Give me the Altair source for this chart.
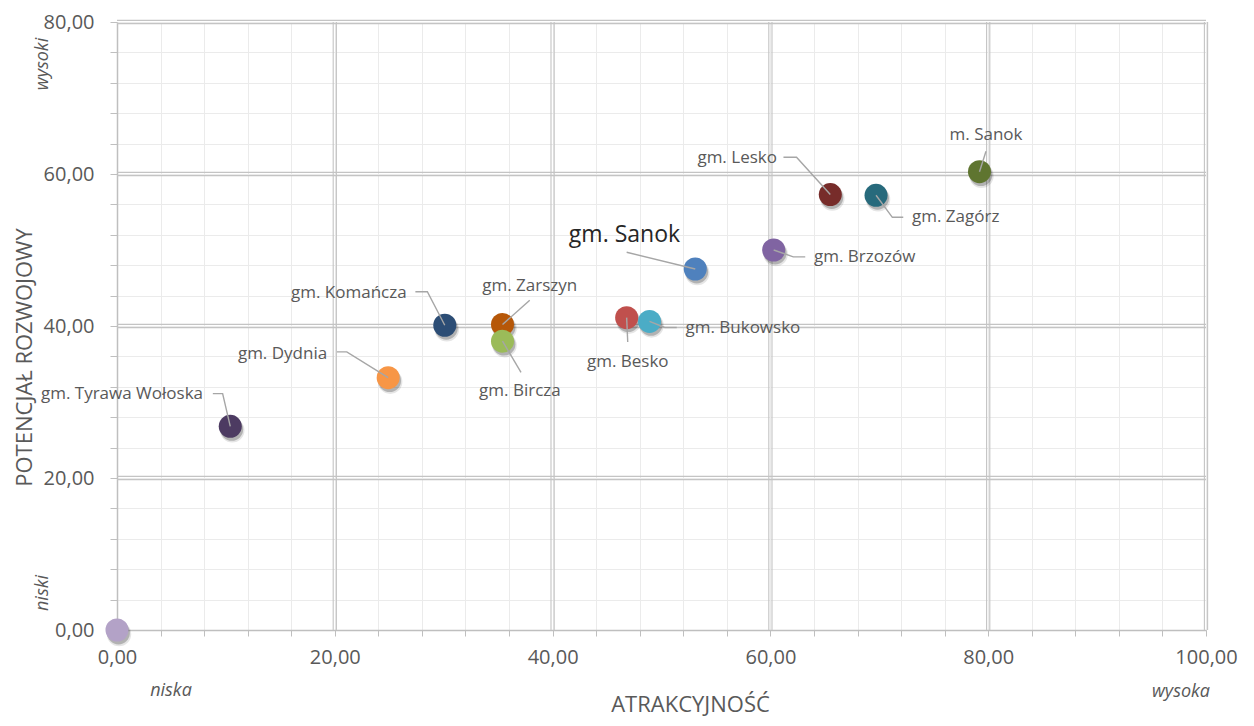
import altair as alt
import pandas as pd

# --- data ---
names = ["m. Sanok", "gm. Lesko", "gm. Zagórz", "gm. Brzozów", "gm. Sanok",
         "gm. Bukowsko", "gm. Besko", "gm. Zarszyn", "gm. Bircza",
         "gm. Komańcza", "gm. Dydnia", "gm. Tyrawa Wołoska", ""]
atrakcyjnosc = [79.2, 65.5, 69.7, 60.3, 53.1, 48.9, 46.8, 35.4, 35.4, 30.1, 24.9, 10.4, 0.0]
potencjal = [60.3, 57.3, 57.2, 50.0, 47.5, 40.6, 41.1, 40.2, 38.0, 40.1, 33.2, 26.8, 0.0]
colors = ["#5f7530", "#772c2a", "#276a7c", "#8064a2", "#4f81bd", "#4bacc6",
          "#c0504d", "#b65708", "#9bbb59", "#2c4d75", "#f79646", "#4d3b62", "#b3a2c7"]

# label anchors (data units) and alignment
label_x = [79.8, 60.6, 73.0, 64.0, 46.6, 52.2, 46.9, 37.9, 37.0, 26.6, 19.3, 7.9]
label_y = [65.1, 62.1, 54.3, 49.1, 52.0, 39.7, 35.3, 45.3, 31.5, 44.4, 36.3, 31.0]
label_align = ["center", "right", "left", "left", "center", "left", "center",
               "center", "center", "right", "right", "right"]
label_size = [17, 17, 17, 17, 23, 17, 17, 17, 17, 17, 17, 17]
label_color = ["#595959"] * 4 + ["#262626"] + ["#595959"] * 7

# leader lines: start point (near label) and elbow
lead_sx = [79.8, 61.2, 72.2, 63.2, 46.8, 51.4, 46.9, 37.9, 37.1, 27.4, 20.2, 8.8]
lead_sy = [63.0, 62.2, 54.3, 49.1, 49.7, 39.8, 37.9, 43.4, 33.9, 44.5, 36.6, 31.1]
lead_ex = [79.8, 62.4, 71.2, 62.1, 46.8, 50.3, 46.9, 37.9, 37.1, 28.5, 21.1, 9.7]
lead_ey = [63.0, 62.2, 54.3, 49.1, 49.7, 39.8, 37.9, 43.4, 33.9, 44.5, 36.6, 31.1]

major_x = [20, 40, 60, 80, 100]
major_y = [20, 40, 60, 80]

pts = pd.DataFrame({"name": names, "x": atrakcyjnosc, "y": potencjal, "c": colors})
labels = pd.DataFrame({"name": names[:12], "x": label_x, "y": label_y,
                       "align": label_align, "fs": label_size, "col": label_color})

rows = []
for i in range(12):
    rows.append({"name": names[i], "o": 0, "x": lead_sx[i], "y": lead_sy[i]})
    rows.append({"name": names[i], "o": 1, "x": lead_ex[i], "y": lead_ey[i]})
    rows.append({"name": names[i], "o": 2, "x": atrakcyjnosc[i], "y": potencjal[i]})
leaders = pd.DataFrame(rows)

FONT = "Open Sans"
W, H = 1089, 608
LEFT, TOP = 117, 22

lblexpr = "datum.value % 20 == 0 ? replace(format(datum.value, '.2f'), '.', ',') : ''"

xs = alt.Scale(domain=[0, 100], nice=False, zero=True)
ys = alt.Scale(domain=[0, 80], nice=False, zero=True)

xaxis = alt.Axis(values=list(range(0, 101, 4)), labelExpr=lblexpr, grid=True,
                 gridColor="#ebebeb", gridWidth=1, domainColor="#bfbfbf", domainWidth=1.5,
                 tickColor="#bfbfbf", tickSize=6, labelPadding=11, labelFontSize=20,
                 labelColor="#595959", labelFont=FONT, title="ATRAKCYJNOŚĆ",
                 titleFont=FONT, titleFontSize=22, titleColor="#595959", titleFontWeight="normal",
                 titleX=690 - LEFT, titleY=74, titleBaseline="middle", titleAnchor="start",
                 titleAlign="center", labelOverlap=False, labelFlush=False, labelBound=False)
yaxis = alt.Axis(values=list(range(0, 81, 4)), labelExpr=lblexpr, grid=True,
                 gridColor="#ebebeb", gridWidth=1, domainColor="#bfbfbf", domainWidth=1.5,
                 tickColor="#bfbfbf", tickSize=7, labelPadding=16, labelFontSize=20,
                 labelColor="#595959", labelFont=FONT, title="POTENCJAŁ ROZWOJOWY",
                 titleFont=FONT, titleFontSize=22, titleColor="#595959", titleFontWeight="normal",
                 titleX=24 - LEFT, titleY=357 - TOP, titleAngle=270, titleBaseline="middle",
                 titleAlign="center", titleAnchor="start", labelOverlap=False,
                 labelFlush=False, labelBound=False)

base_pts = alt.Chart(pts)

grid_x = alt.Chart(pd.DataFrame({"v": major_x}))
grid_y = alt.Chart(pd.DataFrame({"v": major_y}))

layers = []
# axes (minor grid) drawn via an invisible layer
layers.append(base_pts.mark_point(opacity=0).encode(
    x=alt.X("x:Q", scale=xs, axis=xaxis),
    y=alt.Y("y:Q", scale=ys, axis=yaxis)))
for off in (-1.6, 1.6):
    layers.append(grid_x.mark_rule(color="#c4c4c4", strokeWidth=1.1, xOffset=off).encode(
        x=alt.X("v:Q", scale=xs, axis=xaxis), y=alt.value(0), y2=alt.value(H)))
    layers.append(grid_y.mark_rule(color="#c4c4c4", strokeWidth=1.1, yOffset=off).encode(
        y=alt.Y("v:Q", scale=ys, axis=yaxis), x=alt.value(0), x2=alt.value(W)))

# soft shadows
layers.append(base_pts.mark_circle(size=600, color="#000000", opacity=0.10,
                                   xOffset=2, yOffset=4).encode(
    x=alt.X("x:Q", scale=xs, axis=xaxis), y=alt.Y("y:Q", scale=ys, axis=yaxis)))
layers.append(base_pts.mark_circle(size=520, color="#000000", opacity=0.22,
                                   xOffset=1.5, yOffset=3).encode(
    x=alt.X("x:Q", scale=xs, axis=xaxis), y=alt.Y("y:Q", scale=ys, axis=yaxis)))
layers.append(base_pts.mark_circle(size=530, opacity=1).encode(
    x=alt.X("x:Q", scale=xs, axis=xaxis), y=alt.Y("y:Q", scale=ys, axis=yaxis),
    color=alt.Color("c:N", scale=None)))

layers.append(alt.Chart(leaders).mark_line(color="#a6a6a6", strokeWidth=1.4).encode(
    x=alt.X("x:Q", scale=xs, axis=xaxis), y=alt.Y("y:Q", scale=ys, axis=yaxis),
    detail="name:N", order="o:Q"))

for al in ("left", "center", "right"):
    sub = labels[labels["align"] == al]
    layers.append(alt.Chart(sub).mark_text(align=al, baseline="middle", font=FONT).encode(
        x=alt.X("x:Q", scale=xs, axis=xaxis), y=alt.Y("y:Q", scale=ys, axis=yaxis),
        text="name:N",
        size=alt.Size("fs:Q", scale=None), color=alt.Color("col:N", scale=None)))

# qualitative corner annotations
ann = alt.Chart(pd.DataFrame({"t": ["a"]}))
akw = dict(fontStyle="italic", fontSize=18, color="#595959", font=FONT,
           baseline="middle", align="center")
layers.append(ann.mark_text(text="wysoki", angle=270, **akw).encode(
    x=alt.value(43 - LEFT), y=alt.value(64 - TOP)))
layers.append(ann.mark_text(text="niski", angle=270, **akw).encode(
    x=alt.value(43 - LEFT), y=alt.value(593 - TOP)))
layers.append(ann.mark_text(text="niska", **akw).encode(
    x=alt.value(171 - LEFT), y=alt.value(691 - TOP)))
layers.append(ann.mark_text(text="wysoka", **akw).encode(
    x=alt.value(1181 - LEFT), y=alt.value(692 - TOP)))

chart = alt.layer(*layers).properties(
    width=W, height=H,
    autosize=alt.AutoSizeParams(type="none"),
    padding={"left": LEFT - 8, "top": TOP - 8, "right": 38, "bottom": 88},
).configure_view(stroke=None).configure(background="white").configure_axis(
    labelOverlap=False)

chart.save("out.html", embed_options={"renderer": "svg", "actions": False})
